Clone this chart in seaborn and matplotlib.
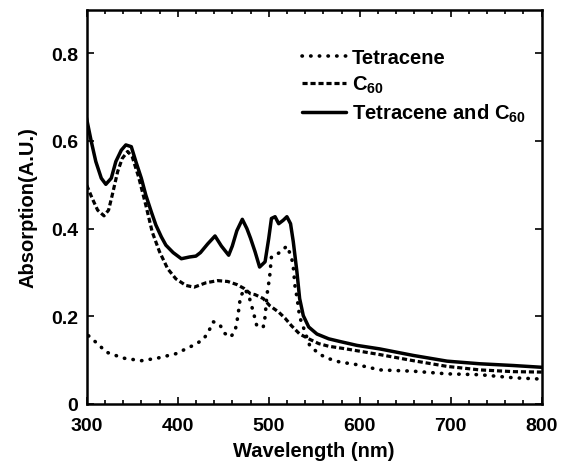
import numpy as np
import pandas as pd
import matplotlib
matplotlib.use("Agg")
import matplotlib.pyplot as plt
import seaborn as sns
from matplotlib.ticker import MultipleLocator

# ---- data ----
tet_c60_wl = [299, 305, 310, 316, 321, 327, 332, 338, 343, 349, 354, 360, 365, 371, 376,
              382, 387, 395, 404, 413, 420, 425, 433, 441, 448, 456, 460, 465, 471, 476,
              480, 485, 490, 496, 500, 503, 507, 511, 516, 520, 524, 527, 531, 534, 538,
              544, 553, 566, 578, 597, 622, 659, 696, 732, 769, 800]
tet_c60_abs = [0.660, 0.599, 0.553, 0.515, 0.501, 0.515, 0.553, 0.579, 0.591, 0.587,
               0.553, 0.515, 0.476, 0.438, 0.408, 0.381, 0.362, 0.345, 0.331, 0.335,
               0.337, 0.345, 0.365, 0.383, 0.360, 0.339, 0.360, 0.395, 0.421, 0.400,
               0.378, 0.347, 0.312, 0.324, 0.377, 0.423, 0.427, 0.411, 0.419, 0.427,
               0.411, 0.370, 0.301, 0.240, 0.201, 0.175, 0.159, 0.148, 0.142, 0.133,
               0.125, 0.110, 0.097, 0.091, 0.087, 0.083]

c60_wl = [300, 306, 312, 319, 324, 328, 334, 339, 345, 350, 357, 365, 372, 380, 389,
          398, 409, 418, 431, 444, 455, 465, 473, 480, 485, 494, 501, 511, 518, 525,
          534, 544, 555, 566, 585, 622, 659, 696, 732, 769, 800]
c60_abs = [0.499, 0.469, 0.442, 0.429, 0.442, 0.476, 0.530, 0.560, 0.576, 0.564, 0.518,
           0.453, 0.392, 0.347, 0.308, 0.285, 0.270, 0.266, 0.276, 0.281, 0.279, 0.272,
           0.263, 0.251, 0.249, 0.240, 0.224, 0.209, 0.195, 0.178, 0.159, 0.148, 0.137,
           0.131, 0.125, 0.112, 0.098, 0.085, 0.077, 0.073, 0.072]

tet_wl = [302, 314, 321, 340, 360, 378, 398, 417, 428, 434, 439, 446, 452, 458, 463, 466,
          469, 474, 479, 483, 487, 494, 496, 498, 501, 503, 512, 520, 525, 527, 529, 531,
          534, 538, 545, 555, 564, 578, 597, 622, 659, 696, 732, 769, 800]
tet_abs = [0.155, 0.133, 0.118, 0.104, 0.098, 0.104, 0.114, 0.133, 0.146, 0.165, 0.187,
           0.181, 0.160, 0.152, 0.165, 0.198, 0.245, 0.262, 0.240, 0.210, 0.177, 0.175,
           0.198, 0.247, 0.289, 0.335, 0.345, 0.360, 0.335, 0.312, 0.266, 0.244, 0.198,
           0.175, 0.133, 0.114, 0.104, 0.095, 0.089, 0.077, 0.074, 0.068, 0.066, 0.059,
           0.056]

x_ticks = [300, 400, 500, 600, 700, 800]
y_ticks = [0, 0.2, 0.4, 0.6, 0.8]
y_tick_labels = ["0", "0.2", "0.4", "0.6", "0.8"]
labels = ["Tetracene", r"C$_{60}$", r"Tetracene and C$_{60}$"]

sns.set_theme(style="ticks")
plt.rcParams["font.family"] = ["Liberation Sans", "DejaVu Sans"]
plt.rcParams["font.weight"] = "bold"
plt.rcParams["text.color"] = "black"
plt.rcParams["axes.labelcolor"] = "black"
plt.rcParams["xtick.color"] = "black"
plt.rcParams["ytick.color"] = "black"
plt.rcParams["mathtext.fontset"] = "custom"
plt.rcParams["mathtext.rm"] = "Liberation Sans:bold"
plt.rcParams["mathtext.it"] = "Liberation Sans:bold"
plt.rcParams["mathtext.bf"] = "Liberation Sans:bold"
plt.rcParams["mathtext.default"] = "rm"

fig = plt.figure(figsize=(5.69, 4.64), dpi=100)
ax = fig.add_axes([0.1524, 0.128, 0.7996, 0.849])

df_t = pd.DataFrame({"wl": tet_wl, "a": tet_abs})
df_c = pd.DataFrame({"wl": c60_wl, "a": c60_abs})
df_tc = pd.DataFrame({"wl": tet_c60_wl, "a": tet_c60_abs})

sns.lineplot(data=df_t, x="wl", y="a", ax=ax, color="black", lw=2.6,
             linestyle=(0, (0.1, 2.3)), dash_capstyle="round", label=labels[0], sort=False)
sns.lineplot(data=df_c, x="wl", y="a", ax=ax, color="black", lw=2.3,
             linestyle=(0, (1.6, 0.9)), label=labels[1], sort=False)
sns.lineplot(data=df_tc, x="wl", y="a", ax=ax, color="black", lw=2.5,
             linestyle="-", label=labels[2], sort=False)

ax.set_xlim(300, 800)
ax.set_ylim(0, 0.9)
ax.set_xticks(x_ticks)
ax.set_xticklabels([str(v) for v in x_ticks])
ax.set_yticks(y_ticks)
ax.set_yticklabels(y_tick_labels)
ax.xaxis.set_minor_locator(MultipleLocator(20))
ax.tick_params(axis="both", which="both", direction="in", top=True, right=True,
               labelsize=14, width=1.2, colors="black")
ax.tick_params(which="major", length=5)
ax.tick_params(which="minor", length=3)
ax.tick_params(axis="x", which="major", pad=9.5)
ax.tick_params(axis="y", which="major", pad=6)
for lab in ax.get_xticklabels() + ax.get_yticklabels():
    lab.set_fontweight("bold")
for s in ax.spines.values():
    s.set_linewidth(1.8)
    s.set_color("black")

ax.set_xlabel("Wavelength (nm)", fontsize=14.5, fontweight="bold", labelpad=5)
ax.set_ylabel("Absorption(A.U.)", fontsize=14.5, fontweight="bold", labelpad=10)

leg = ax.legend(loc="upper left", bbox_to_anchor=(0.456, 0.922), frameon=False,
                fontsize=14.5, handlelength=2.15, handletextpad=0.3,
                labelspacing=0.32, borderaxespad=0)
for t in leg.get_texts():
    t.set_fontweight("bold")

fig.savefig("out.png", dpi=100)
